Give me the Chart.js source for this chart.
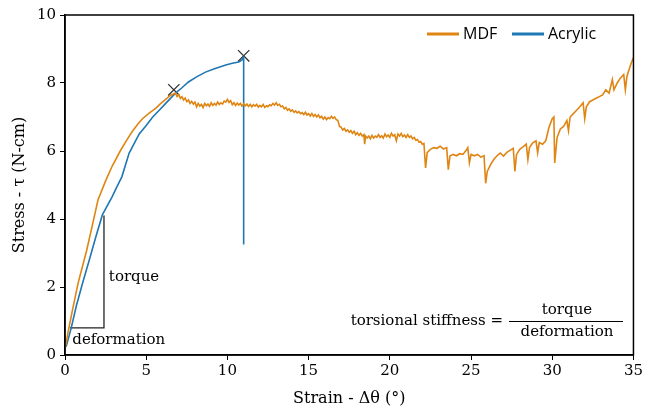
<!DOCTYPE html>
<html>
<head>
<meta charset="utf-8">
<script src="https://cdn.jsdelivr.net/npm/chart.js@4"></script>
<style>
  html, body { margin: 0; padding: 0; background: #fff; }
  #wrap { width: 645px; height: 412px; }
</style>
</head>
<body>
<div id="wrap"><canvas id="myChart" width="645" height="412"></canvas></div>
<script>
// strain (deg) and stress (N-cm)
const mdfStrain = [0.03, 0.2, 0.46, 0.8, 1.34, 1.7, 2.03, 2.5, 2.9, 3.4, 3.8, 4.15, 4.5, 4.77, 5.2, 5.6, 5.9, 6.2, 6.5,
  6.8, 6.9, 7.0, 7.1, 7.2, 7.3, 7.4, 7.5, 7.6, 7.7, 7.8, 7.9, 8.0, 8.1, 8.2, 8.3, 8.4, 8.5, 8.6, 8.7, 8.8, 8.9,
  9.0, 9.1, 9.2, 9.3, 9.4, 9.5, 9.6, 9.7, 9.8, 9.9, 10.0, 10.1, 10.2, 10.3, 10.4, 10.5, 10.6, 10.7, 10.8, 10.9,
  11.0, 11.1, 11.2, 11.3, 11.4, 11.5, 11.6, 11.7, 11.8, 11.9, 12.0, 12.1, 12.2, 12.3, 12.4, 12.5, 12.6, 12.7, 12.8, 12.9,
  13.0, 13.1, 13.2, 13.3, 13.4, 13.5, 13.6, 13.7, 13.8, 13.9, 14.0, 14.1, 14.2, 14.3, 14.4, 14.5, 14.6, 14.7, 14.8, 14.9,
  15.0, 15.1, 15.2, 15.3, 15.4, 15.5, 15.6, 15.7, 15.8, 15.9, 16.0, 16.1, 16.2, 16.3, 16.4, 16.5, 16.6, 16.7, 16.8, 16.9,
  17.0, 17.1, 17.2, 17.3, 17.4, 17.5, 17.6, 17.7, 17.8, 17.9, 18.0, 18.1, 18.2, 18.3, 18.4, 18.45, 18.5, 18.6, 18.7, 18.8, 18.9,
  19.0, 19.1, 19.2, 19.3, 19.4, 19.5, 19.6, 19.7, 19.8, 19.9, 20.0, 20.1, 20.2, 20.3, 20.4, 20.5, 20.6, 20.7, 20.8, 20.9,
  21.0, 21.1, 21.2, 21.3, 21.4, 21.5, 21.6, 21.7, 21.8, 21.9, 22.0, 22.1, 22.2, 22.3, 22.5, 22.7, 22.9, 23.1, 23.3, 23.5,
  23.6, 23.7, 23.9, 24.1, 24.3, 24.5, 24.7, 24.8, 24.9, 25.0, 25.2, 25.4, 25.6, 25.8, 25.9, 26.0, 26.2, 26.4, 26.6, 26.8,
  27.0, 27.2, 27.4, 27.6, 27.7, 27.8, 28.0, 28.2, 28.4, 28.5, 28.6, 28.8, 29.0, 29.1, 29.2, 29.4, 29.6, 29.8, 30.0, 30.1,
  30.15, 30.3, 30.5, 30.7, 30.9, 31.0, 31.1, 31.3, 31.5, 31.7, 31.9, 32.0, 32.1, 32.3, 32.5, 32.7, 32.9, 33.1,
  33.3, 33.5, 33.7, 33.8, 34.0, 34.2, 34.4, 34.5, 34.6, 34.8, 35.0];
const mdfStress = [0.24, 0.7, 1.32, 2.1, 3.09, 3.85, 4.56, 5.12, 5.55, 6.0, 6.32, 6.58, 6.8, 6.95, 7.12, 7.26, 7.4, 7.52, 7.64,
  7.7, 7.6, 7.66, 7.55, 7.6, 7.5, 7.56, 7.45, 7.5, 7.4, 7.46, 7.38, 7.44, 7.3, 7.4, 7.32, 7.37, 7.28, 7.4, 7.33, 7.38, 7.31,
  7.42, 7.34, 7.4, 7.35, 7.44, 7.37, 7.42, 7.38, 7.47, 7.44, 7.52, 7.43, 7.48, 7.36, 7.42, 7.34, 7.41, 7.35, 7.4, 7.32,
  7.39, 7.33, 7.38, 7.31, 7.37, 7.3, 7.36, 7.32, 7.37, 7.29, 7.34, 7.3, 7.37, 7.28, 7.33, 7.3, 7.36, 7.33, 7.4, 7.35,
  7.42, 7.34, 7.37, 7.3, 7.32, 7.24, 7.28, 7.2, 7.24, 7.17, 7.21, 7.14, 7.18, 7.12, 7.16, 7.1, 7.13, 7.07, 7.14, 7.06,
  7.1, 7.03, 7.1, 7.02, 7.07, 7.0, 7.06, 6.98, 7.02, 6.94, 7.0, 6.92, 6.98, 6.95, 7.02, 6.96, 7.0, 6.92, 6.9, 6.72,
  6.7, 6.62, 6.66, 6.58, 6.62, 6.55, 6.6, 6.52, 6.58, 6.48, 6.54, 6.46, 6.52, 6.44, 6.48, 6.2, 6.44, 6.38, 6.44, 6.36, 6.46,
  6.38, 6.44, 6.4, 6.48, 6.4, 6.45, 6.38, 6.5, 6.42, 6.47, 6.4, 6.52, 6.44, 6.48, 6.3, 6.5, 6.44, 6.52, 6.42, 6.47,
  6.4, 6.48, 6.4, 6.44, 6.36, 6.4, 6.32, 6.34, 6.26, 6.28, 6.2, 6.22, 5.5, 5.95, 6.05, 6.1, 6.08, 6.14, 6.06, 6.1,
  5.45, 5.85, 5.9, 5.86, 5.92, 5.9, 6.02, 6.1, 5.65, 5.9, 5.86, 5.9, 5.82, 5.86, 5.05, 5.4, 5.6, 5.75, 5.86, 5.94,
  5.85, 5.96, 6.02, 6.08, 5.4, 5.9, 6.05, 6.12, 6.2, 5.75, 6.1, 6.24, 6.3, 5.95, 6.25, 6.2, 6.3, 6.7, 6.95, 7.0,
  5.65, 6.4, 6.65, 6.72, 6.9, 6.6, 7.0, 7.1, 7.2, 7.3, 7.42, 6.95, 7.3, 7.45, 7.5, 7.55, 7.6, 7.65,
  7.8, 7.7, 8.1, 7.8, 8.0, 8.15, 8.25, 7.8, 8.2, 8.5, 8.75];

const acrylicStrain = [0.07, 0.38, 0.7, 1.08, 1.5, 1.9, 2.3, 2.9, 3.2, 3.5, 3.95, 4.57, 5.0, 5.4, 5.8, 6.2, 6.8, 7.2,
  7.6, 8.1, 8.65, 9.2, 9.9, 10.3, 10.7, 10.9, 11.0, 11.0];
const acrylicStress = [0.24, 0.79, 1.45, 2.11, 2.8, 3.48, 4.12, 4.65, 4.95, 5.24, 5.94, 6.5, 6.75, 7.0, 7.2, 7.4, 7.7, 7.86,
  8.03, 8.18, 8.32, 8.42, 8.53, 8.58, 8.62, 8.68, 8.76, 3.25];

// failure points
const failStrain = [6.7, 11.0];
const failStress = [7.8, 8.8];

// stiffness triangle
const triStrain = [0.3, 2.4, 2.4];
const triStress = [0.8, 0.8, 4.1];

const toPoints = (xs, ys) => xs.map((x, i) => ({ x: x, y: ys[i] }));

const serif = "'DejaVu Serif', serif";
const sans = "'Open Sans', sans-serif";

const annotations = {
  id: 'annotations',
  afterDraw(chart) {
    const { ctx, chartArea, scales } = chart;
    const x = scales.x, y = scales.y;
    ctx.save();
    // frame
    ctx.strokeStyle = '#000';
    ctx.lineWidth = 1.5;
    ctx.strokeRect(chartArea.left, chartArea.top, chartArea.right - chartArea.left, chartArea.bottom - chartArea.top);

    ctx.fillStyle = '#000';
    ctx.font = '15px ' + serif;
    ctx.textBaseline = 'middle';
    ctx.textAlign = 'left';
    ctx.fillText('torque', x.getPixelForValue(2.7), y.getPixelForValue(2.3));
    ctx.fillText('deformation', x.getPixelForValue(0.45), y.getPixelForValue(0.45));

    // formula
    ctx.textAlign = 'right';
    ctx.fillText('torsional stiffness =', 503, 321);
    ctx.textAlign = 'center';
    ctx.fillText('torque', 567, 310);
    ctx.fillText('deformation', 567, 332);
    ctx.beginPath();
    ctx.lineWidth = 1;
    ctx.moveTo(509, 321.5);
    ctx.lineTo(623, 321.5);
    ctx.stroke();

    // legend
    ctx.font = '16px ' + sans;
    ctx.textAlign = 'left';
    ctx.lineWidth = 3;
    ctx.strokeStyle = '#DF8513';
    ctx.beginPath(); ctx.moveTo(427, 34); ctx.lineTo(459, 34); ctx.stroke();
    ctx.fillText('MDF', 463, 34);
    ctx.strokeStyle = '#1F77B4';
    ctx.beginPath(); ctx.moveTo(512, 34); ctx.lineTo(544, 34); ctx.stroke();
    ctx.fillText('Acrylic', 548, 34);
    ctx.restore();
  }
};

const tickFont = { family: serif, size: 15 };
const titleFont = { family: serif, size: 16 };

new Chart(document.getElementById('myChart').getContext('2d'), {
  type: 'scatter',
  data: {
    datasets: [
      {
        label: 'MDF',
        data: toPoints(mdfStrain, mdfStress),
        showLine: true,
        borderColor: '#DF8513',
        borderWidth: 1.6,
        pointRadius: 0,
        tension: 0,
      },
      {
        label: 'Acrylic',
        data: toPoints(acrylicStrain, acrylicStress),
        showLine: true,
        borderColor: '#1F77B4',
        borderWidth: 1.6,
        pointRadius: 0,
        tension: 0,
      },
      {
        label: 'failure',
        data: toPoints(failStrain, failStress),
        pointStyle: 'crossRot',
        pointRadius: 8,
        borderColor: '#333',
        borderWidth: 1.3,
      },
      {
        label: 'triangle',
        data: toPoints(triStrain, triStress),
        showLine: true,
        borderColor: '#222',
        borderWidth: 1.3,
        pointRadius: 0,
      },
    ],
  },
  options: {
    responsive: false,
    animation: false,
    layout: { padding: { left: 0, right: 9, top: 15, bottom: 0 } },
    plugins: { legend: { display: false }, tooltip: { enabled: false } },
    scales: {
      x: {
        type: 'linear',
        min: 0,
        max: 35,
        afterFit(scale) { scale.height = 57; },
        ticks: { stepSize: 5, font: tickFont, color: '#000', padding: 2 },
        grid: { drawOnChartArea: false, color: '#000', tickLength: 5 },
        border: { color: '#000', width: 1.5 },
        title: { display: true, text: 'Strain - Δθ (°)', font: titleFont, color: '#000', padding: { top: 0, bottom: 4 } },
      },
      y: {
        min: 0,
        max: 10,
        afterFit(scale) { scale.width = 65; },
        ticks: { stepSize: 2, font: tickFont, color: '#000', padding: 4 },
        grid: { drawOnChartArea: false, color: '#000', tickLength: 5 },
        border: { color: '#000', width: 1.5 },
        title: { display: true, text: 'Stress - τ (N-cm)', font: titleFont, color: '#000', padding: { top: 10, bottom: 0 } },
      },
    },
  },
  plugins: [annotations],
});
</script>
</body>
</html>
